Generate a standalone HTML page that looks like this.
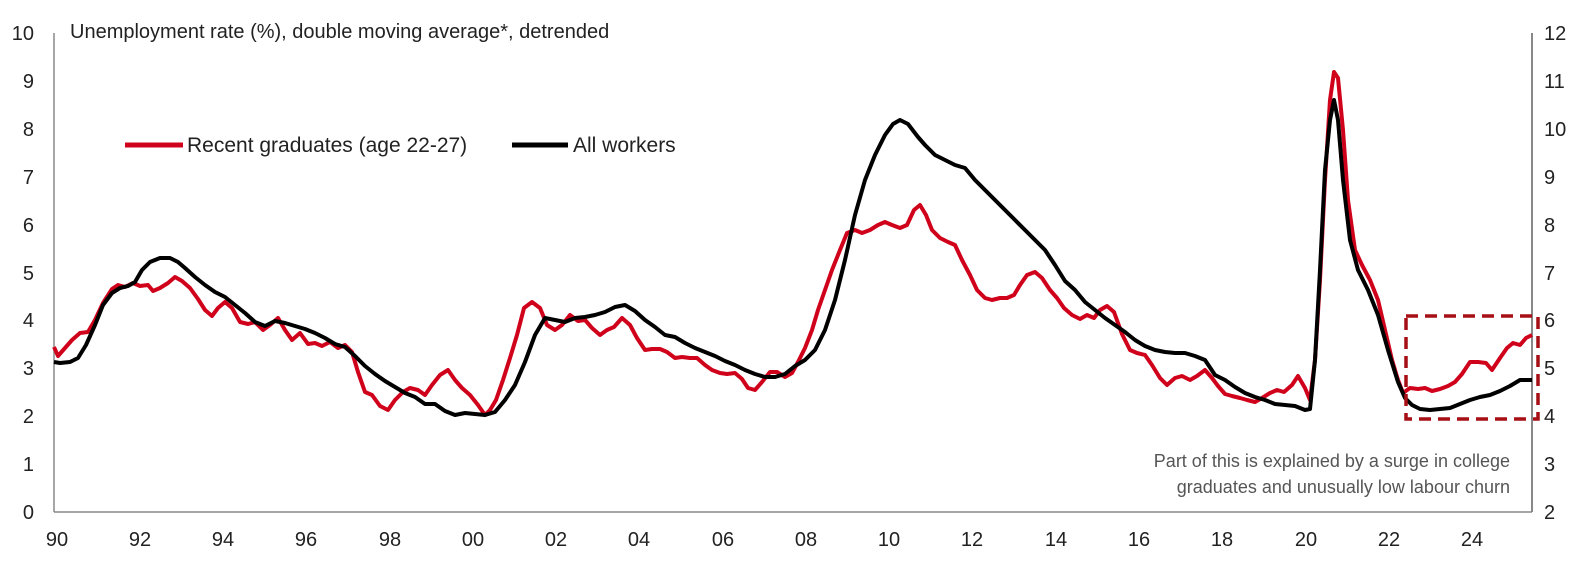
<!DOCTYPE html>
<html><head><meta charset="utf-8"><style>
html,body{margin:0;padding:0;background:#fff;}
svg{display:block;font-family:"Liberation Sans",sans-serif;}
</style></head><body>
<svg width="1577" height="568" viewBox="0 0 1577 568">
<g font-size="20" fill="#222" text-anchor="end">
<text x="34" y="40">10</text><text x="34" y="88">9</text><text x="34" y="136">8</text><text x="34" y="184">7</text><text x="34" y="232">6</text><text x="34" y="280">5</text><text x="34" y="327">4</text><text x="34" y="375">3</text><text x="34" y="423">2</text><text x="34" y="471">1</text><text x="34" y="519">0</text>
</g>
<g font-size="20" fill="#222" text-anchor="start">
<text x="1544" y="40">12</text><text x="1544" y="88">11</text><text x="1544" y="136">10</text><text x="1544" y="184">9</text><text x="1544" y="232">8</text><text x="1544" y="280">7</text><text x="1544" y="327">6</text><text x="1544" y="375">5</text><text x="1544" y="423">4</text><text x="1544" y="471">3</text><text x="1544" y="519">2</text>
</g>
<g font-size="20" fill="#222" text-anchor="middle">
<text x="57" y="546">90</text><text x="140" y="546">92</text><text x="223" y="546">94</text><text x="306" y="546">96</text><text x="390" y="546">98</text><text x="473" y="546">00</text><text x="556" y="546">02</text><text x="639" y="546">04</text><text x="723" y="546">06</text><text x="806" y="546">08</text><text x="889" y="546">10</text><text x="972" y="546">12</text><text x="1056" y="546">14</text><text x="1139" y="546">16</text><text x="1222" y="546">18</text><text x="1306" y="546">20</text><text x="1389" y="546">22</text><text x="1472" y="546">24</text>
</g>
<line x1="54" y1="33" x2="54" y2="512" stroke="#888" stroke-width="1.5"/>
<line x1="54" y1="512" x2="1532" y2="512" stroke="#888" stroke-width="1.5"/>
<line x1="1532" y1="33" x2="1532" y2="512" stroke="#888" stroke-width="2"/>
<text x="70" y="38" font-size="20" fill="#222">Unemployment rate (%), double moving average*, detrended</text>
<line x1="125" y1="145" x2="183" y2="145" stroke="#d0021b" stroke-width="5"/>
<text x="187" y="152" font-size="21" fill="#222">Recent graduates (age 22-27)</text>
<line x1="512" y1="145" x2="568" y2="145" stroke="#000" stroke-width="5"/>
<text x="573" y="152" font-size="21" fill="#222">All workers</text>
<g font-size="18" fill="#555" text-anchor="end">
<text x="1510" y="467">Part of this is explained by a surge in college</text>
<text x="1510" y="493">graduates and unusually low labour churn</text>
</g>
<polyline fill="none" stroke="#d0021b" stroke-width="4" stroke-linejoin="round" points="54,347 58,356 65,348 72,340 80,333 88,332 95,320 103,303 112,289 118,285 125,287 133,283 140,286 148,285 153,291 160,288 168,283 175,277 182,281 190,288 198,299 205,310 212,316 218,308 225,302 232,308 240,322 248,324 255,322 263,330 270,325 278,318 285,330 292,340 300,333 308,344 315,343 322,346 330,342 338,348 345,345 352,352 358,372 365,392 372,395 380,406 388,410 395,400 403,392 410,388 418,390 425,395 432,385 440,375 448,370 455,380 462,388 470,395 478,405 485,415 490,410 496,400 503,380 510,358 517,335 524,308 532,302 540,308 547,325 555,330 562,325 570,315 578,321 585,320 592,328 600,335 607,330 614,327 622,318 630,325 637,338 645,350 652,349 660,349 667,352 675,358 682,357 690,358 697,358 705,365 712,370 720,373 727,374 735,373 742,379 748,388 755,390 762,382 770,372 777,372 785,377 792,373 798,362 805,348 812,330 818,310 825,290 832,270 840,250 847,233 855,230 862,233 870,230 878,225 885,222 892,225 900,228 907,225 914,210 920,205 926,215 932,230 940,238 948,242 955,245 962,260 970,275 977,290 985,298 992,300 1000,298 1007,298 1014,295 1020,285 1027,275 1035,272 1042,278 1050,290 1057,298 1064,308 1072,315 1080,319 1087,315 1094,318 1100,310 1107,306 1114,312 1122,334 1130,350 1137,353 1145,355 1152,365 1160,378 1167,385 1175,378 1182,376 1190,380 1197,376 1205,370 1212,378 1218,386 1225,394 1232,396 1240,398 1247,400 1255,402 1262,398 1270,393 1277,390 1284,392 1292,385 1298,376 1305,388 1310,400 1315,360 1320,280 1325,180 1330,100 1334,72 1338,78 1343,130 1348,200 1355,250 1362,265 1370,280 1378,300 1385,330 1392,360 1398,380 1403,393 1410,388 1418,389 1425,388 1432,391 1440,389 1448,386 1455,382 1462,374 1470,362 1478,362 1486,363 1492,370 1500,358 1507,348 1513,343 1520,345 1526,338 1532,335"/>
<polyline fill="none" stroke="#000" stroke-width="4" stroke-linejoin="round" points="54,362 60,363 70,362 78,358 86,345 95,325 103,305 112,293 120,288 128,286 135,282 142,270 150,262 160,258 170,258 178,262 185,268 195,277 205,285 215,292 225,297 235,305 245,313 255,322 265,326 275,321 285,323 295,326 305,329 315,333 325,338 335,344 345,347 355,356 365,366 375,374 385,381 395,387 405,393 415,397 425,404 435,404 445,411 455,415 465,413 475,414 485,415 495,412 505,400 515,385 525,362 535,335 545,318 555,320 565,322 575,318 585,317 595,315 605,312 615,307 625,305 635,311 645,320 655,327 665,335 675,337 685,343 695,348 705,352 715,356 725,361 735,365 745,370 755,374 765,377 775,377 785,374 795,366 805,360 815,350 825,330 835,300 845,260 855,215 865,180 875,155 885,135 893,124 900,120 908,124 918,137 925,145 935,155 945,160 955,165 965,168 975,180 985,190 995,200 1005,210 1015,220 1025,230 1035,240 1045,250 1055,265 1065,281 1075,290 1085,302 1095,310 1105,318 1115,325 1125,332 1135,340 1145,346 1155,350 1165,352 1175,353 1185,353 1195,356 1205,360 1215,375 1225,380 1235,387 1245,393 1255,397 1265,400 1275,404 1285,405 1295,406 1305,410 1310,409 1315,360 1320,270 1325,170 1330,120 1334,100 1338,120 1343,180 1350,240 1358,270 1368,290 1378,315 1388,350 1398,382 1405,398 1412,405 1420,409 1430,410 1440,409 1450,408 1460,404 1470,400 1480,397 1490,395 1500,391 1510,386 1520,380 1532,380"/>
<rect x="1406" y="316" width="132" height="103" fill="none" stroke="#a50f15" stroke-width="3.5" stroke-dasharray="12,7"/>
</svg>
</body></html>
